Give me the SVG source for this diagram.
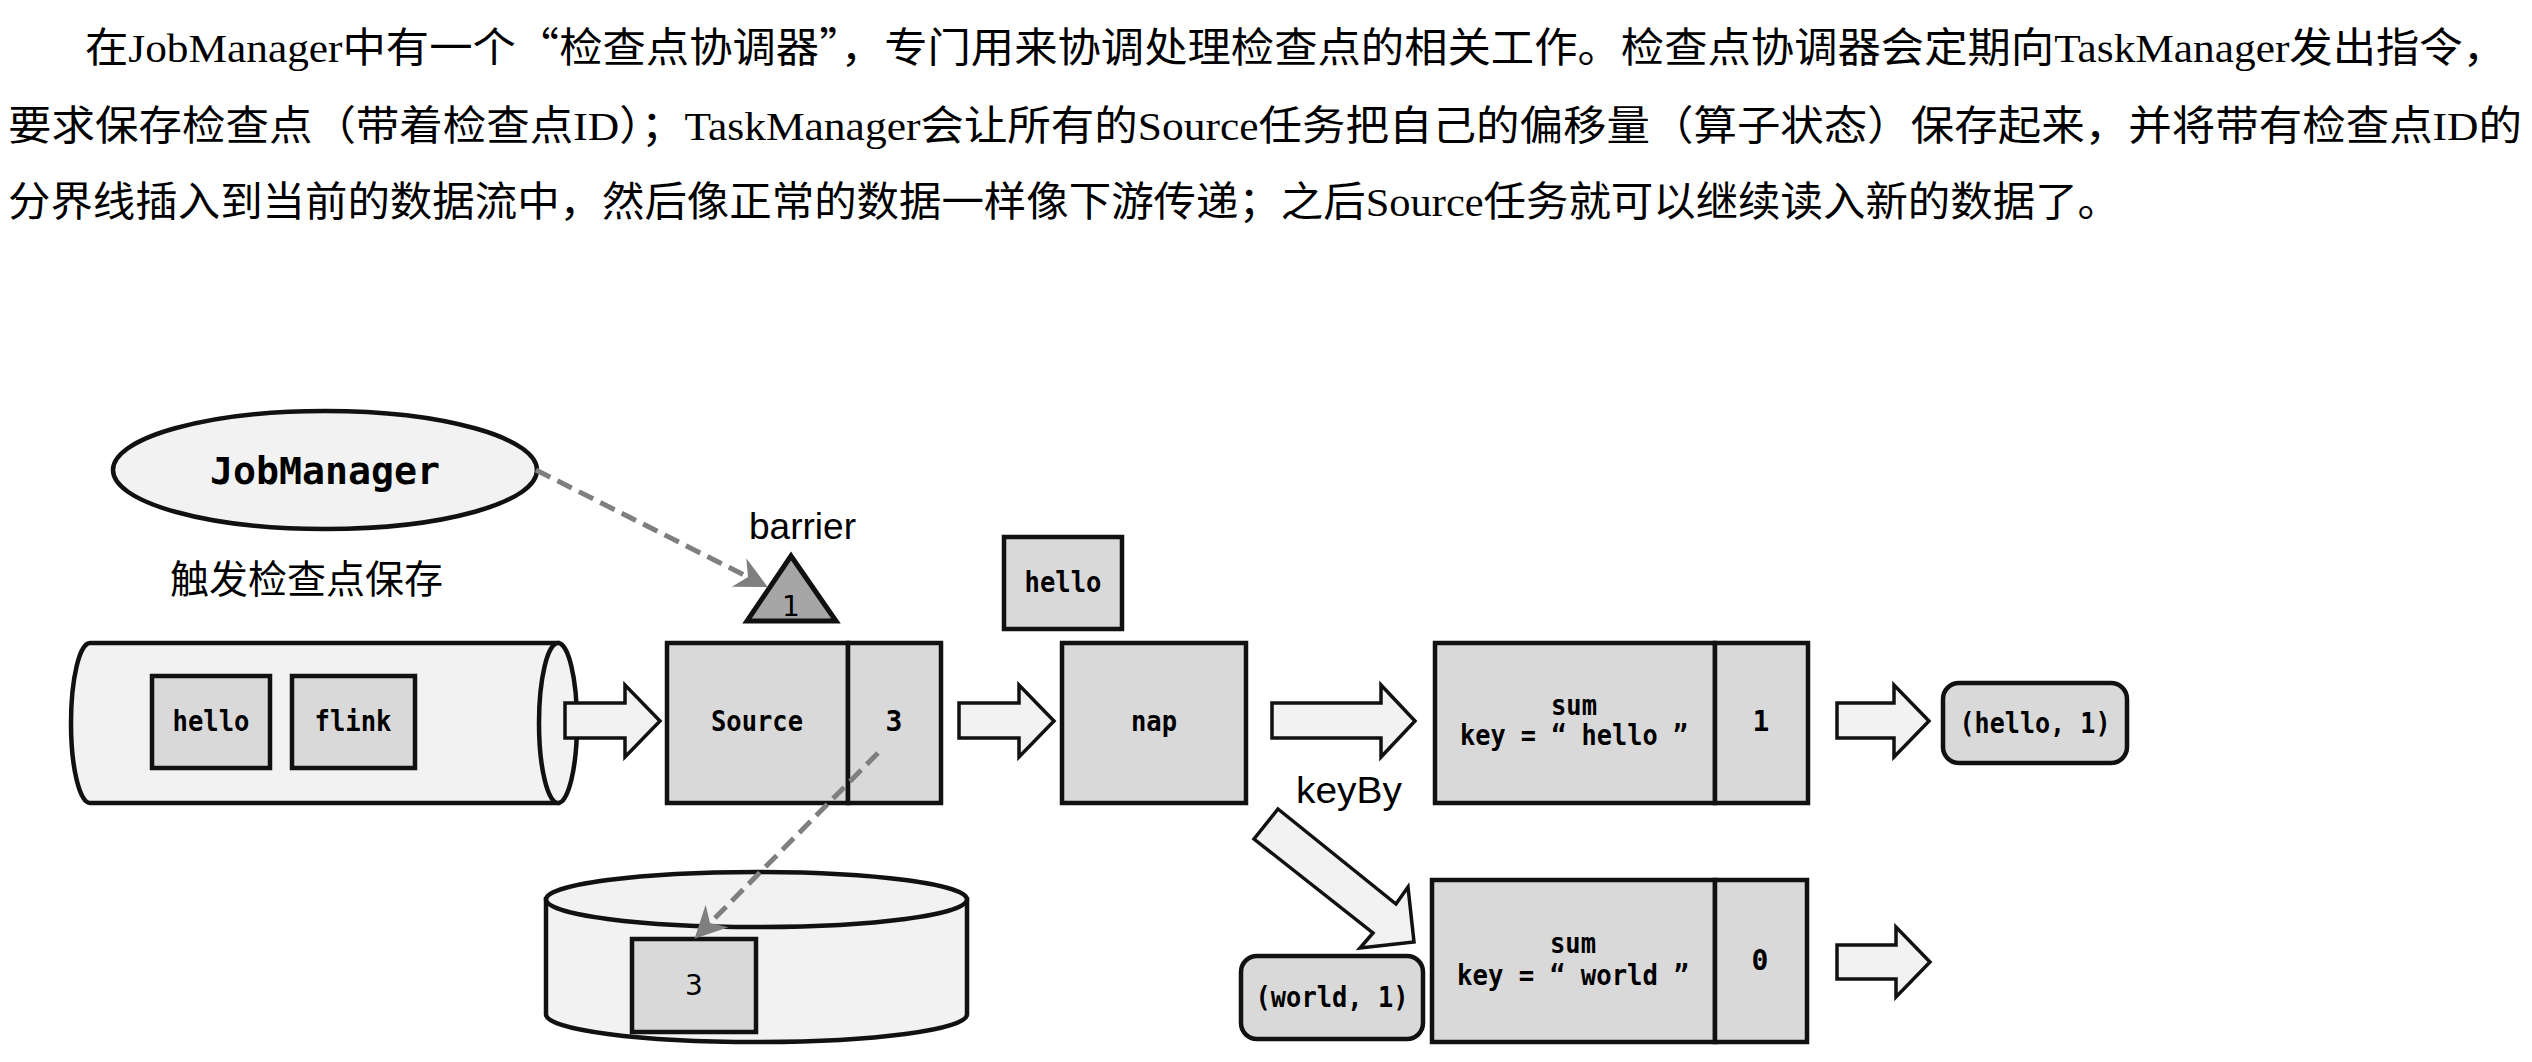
<svg xmlns="http://www.w3.org/2000/svg" width="2532" height="1062" viewBox="0 0 2532 1062">
<style>
.para{font-family:"Liberation Serif","Noto Sans CJK SC",serif;font-size:41px;fill:#000}
.q{font-family:"Noto Sans CJK SC",sans-serif}
.box{fill:#d9d9d9;stroke:#111;stroke-width:4.5}
.light{fill:#f2f2f2;stroke:#111;stroke-width:4.5}
.blk{fill:#f2f2f2;stroke:#111;stroke-width:3.5;stroke-linejoin:miter}
.mono{font-family:"DejaVu Sans Mono","Liberation Mono",monospace;font-weight:bold;font-size:28px;fill:#000;text-anchor:middle}
.big{font-size:37px}
.sans{font-family:"Liberation Sans",Arial,sans-serif;fill:#000}
.num{font-family:"DejaVu Sans",sans-serif;font-size:28px;fill:#000;text-anchor:middle}
.cjk{font-family:"Noto Sans CJK SC",sans-serif;fill:#000}
.dash{fill:none;stroke:#7f7f7f;stroke-width:5;stroke-dasharray:16 8}
</style>
<defs>
<marker id="ah" markerUnits="userSpaceOnUse" markerWidth="60" markerHeight="60" viewBox="-30 -30 60 60" refX="0" refY="0" orient="auto">
<path d="M22,0 L-10,-16 L0,0 L-10,16 Z" fill="#7f7f7f"/>
</marker>
</defs>
<rect width="2532" height="1062" fill="#fff"/>
<g id="paragraph">
<text class="para" x="85" y="62" textLength="2421" lengthAdjust="spacingAndGlyphs">在JobManager中有一个<tspan class="q">“</tspan>检查点协调器<tspan class="q">”</tspan>，专门用来协调处理检查点的相关工作。检查点协调器会定期向TaskManager发出指令，</text>
<text class="para" x="8" y="140" textLength="2514" lengthAdjust="spacingAndGlyphs">要求保存检查点（带着检查点ID）；TaskManager会让所有的Source任务把自己的偏移量（算子状态）保存起来，并将带有检查点ID的</text>
<text class="para" x="8" y="216" textLength="2112" lengthAdjust="spacingAndGlyphs">分界线插入到当前的数据流中，然后像正常的数据一样像下游传递；之后Source任务就可以继续读入新的数据了。</text>
</g>
<g id="jobmanager">
<ellipse class="light" cx="325" cy="470" rx="212" ry="59"/>
<text class="mono big" x="325" y="484" textLength="230" lengthAdjust="spacingAndGlyphs">JobManager</text>
</g>
<g id="trigger-label">
<text class="cjk" x="170" y="593" font-size="39" textLength="273" lengthAdjust="spacingAndGlyphs">触发检查点保存</text>
</g>
<g id="barrier">
<text class="sans" x="749" y="539" font-size="36" textLength="107" lengthAdjust="spacingAndGlyphs">barrier</text>
<polygon points="791,556 747,621 836,621" fill="#a6a6a6" stroke="#111" stroke-width="5" stroke-linejoin="miter"/>
<text class="num" x="791" y="616">1</text>
</g>
<g id="kafka">
<path class="light" d="M90,643 L558,643 L558,803 L90,803 A19,80 0 0 1 90,643 Z"/>
<ellipse class="light" cx="558" cy="723" rx="19" ry="80"/>
<rect class="box" x="152" y="676" width="118" height="92"/>
<text class="mono" x="211" y="731" textLength="77" lengthAdjust="spacingAndGlyphs">hello</text>
<rect class="box" x="292" y="676" width="123" height="92"/>
<text class="mono" x="353" y="731" textLength="77" lengthAdjust="spacingAndGlyphs">flink</text>
</g>
<g id="source">
<rect class="box" x="667" y="643" width="181" height="160"/>
<rect class="box" x="848" y="643" width="93" height="160"/>
<text class="mono" x="757" y="731" textLength="92" lengthAdjust="spacingAndGlyphs">Source</text>
<text class="mono" x="894" y="731">3</text>
</g>
<g id="hello-record">
<rect class="box" x="1004" y="537" width="118" height="92"/>
<text class="mono" x="1063" y="592" textLength="77" lengthAdjust="spacingAndGlyphs">hello</text>
</g>
<g id="map">
<rect class="box" x="1062" y="643" width="184" height="160"/>
<text class="mono" x="1154" y="731" textLength="46" lengthAdjust="spacingAndGlyphs">nap</text>
</g>
<g id="sum-hello">
<rect class="box" x="1435" y="643" width="280" height="160"/>
<rect class="box" x="1715" y="643" width="93" height="160"/>
<text class="mono" x="1574" y="715" textLength="46" lengthAdjust="spacingAndGlyphs">sum</text>
<text class="mono" x="1574" y="745" textLength="228" lengthAdjust="spacingAndGlyphs">key = “ hello ”</text>
<text class="mono" x="1761" y="731">1</text>
</g>
<g id="out-hello">
<rect class="box" x="1943" y="683" width="184" height="80" rx="16" ry="16"/>
<text class="mono" x="2035" y="733" textLength="151" lengthAdjust="spacingAndGlyphs">(hello, 1)</text>
</g>
<g id="keyby-label">
<text class="sans" x="1296" y="803" font-size="37" textLength="106" lengthAdjust="spacingAndGlyphs">keyBy</text>
</g>
<g id="sum-world">
<rect class="box" x="1432" y="880" width="283" height="162"/>
<rect class="box" x="1715" y="880" width="92" height="162"/>
<text class="mono" x="1573" y="953" textLength="46" lengthAdjust="spacingAndGlyphs">sum</text>
<text class="mono" x="1573" y="985" textLength="232" lengthAdjust="spacingAndGlyphs">key = “ world ”</text>
<text class="mono" x="1760" y="970">0</text>
</g>
<g id="in-world">
<rect class="box" x="1241" y="956" width="182" height="83" rx="16" ry="16"/>
<text class="mono" x="1332" y="1007" textLength="153" lengthAdjust="spacingAndGlyphs">(world, 1)</text>
</g>
<g id="state-backend">
<path class="light" d="M546,899.5 L546,1014.5 A210.5,27.5 0 0 0 967,1014.5 L967,899.5 Z"/>
<ellipse class="light" cx="756.5" cy="899.5" rx="210.5" ry="27.5"/>
<rect class="box" x="632" y="939" width="124" height="93"/>
<text class="num" x="694" y="995">3</text>
</g>
<g id="connectors">
<polygon class="blk" points="565,703 625,703 625,685 660,721 625,757 625,738 565,738"/>
<polygon class="blk" points="959,703 1019,703 1019,685 1054,721 1019,757 1019,738 959,738"/>
<polygon class="blk" points="1272,703 1381,703 1381,685 1415,721 1381,757 1381,738 1272,738"/>
<polygon class="blk" points="1837,703 1894,703 1894,685 1929,721 1894,757 1894,738 1837,738"/>
<polygon class="blk" points="1837,945 1896,945 1896,927 1930,962 1896,997 1896,979 1837,979"/>
<polygon class="blk" points="1278,809 1396,904 1408,887 1414,942 1360,948 1373,933 1254,839"/>
<path class="dash" d="M536,470 L748,577" marker-end="url(#ah)"/>
<path class="dash" d="M878,753 L710,923" marker-end="url(#ah)"/>
</g>
</svg>
